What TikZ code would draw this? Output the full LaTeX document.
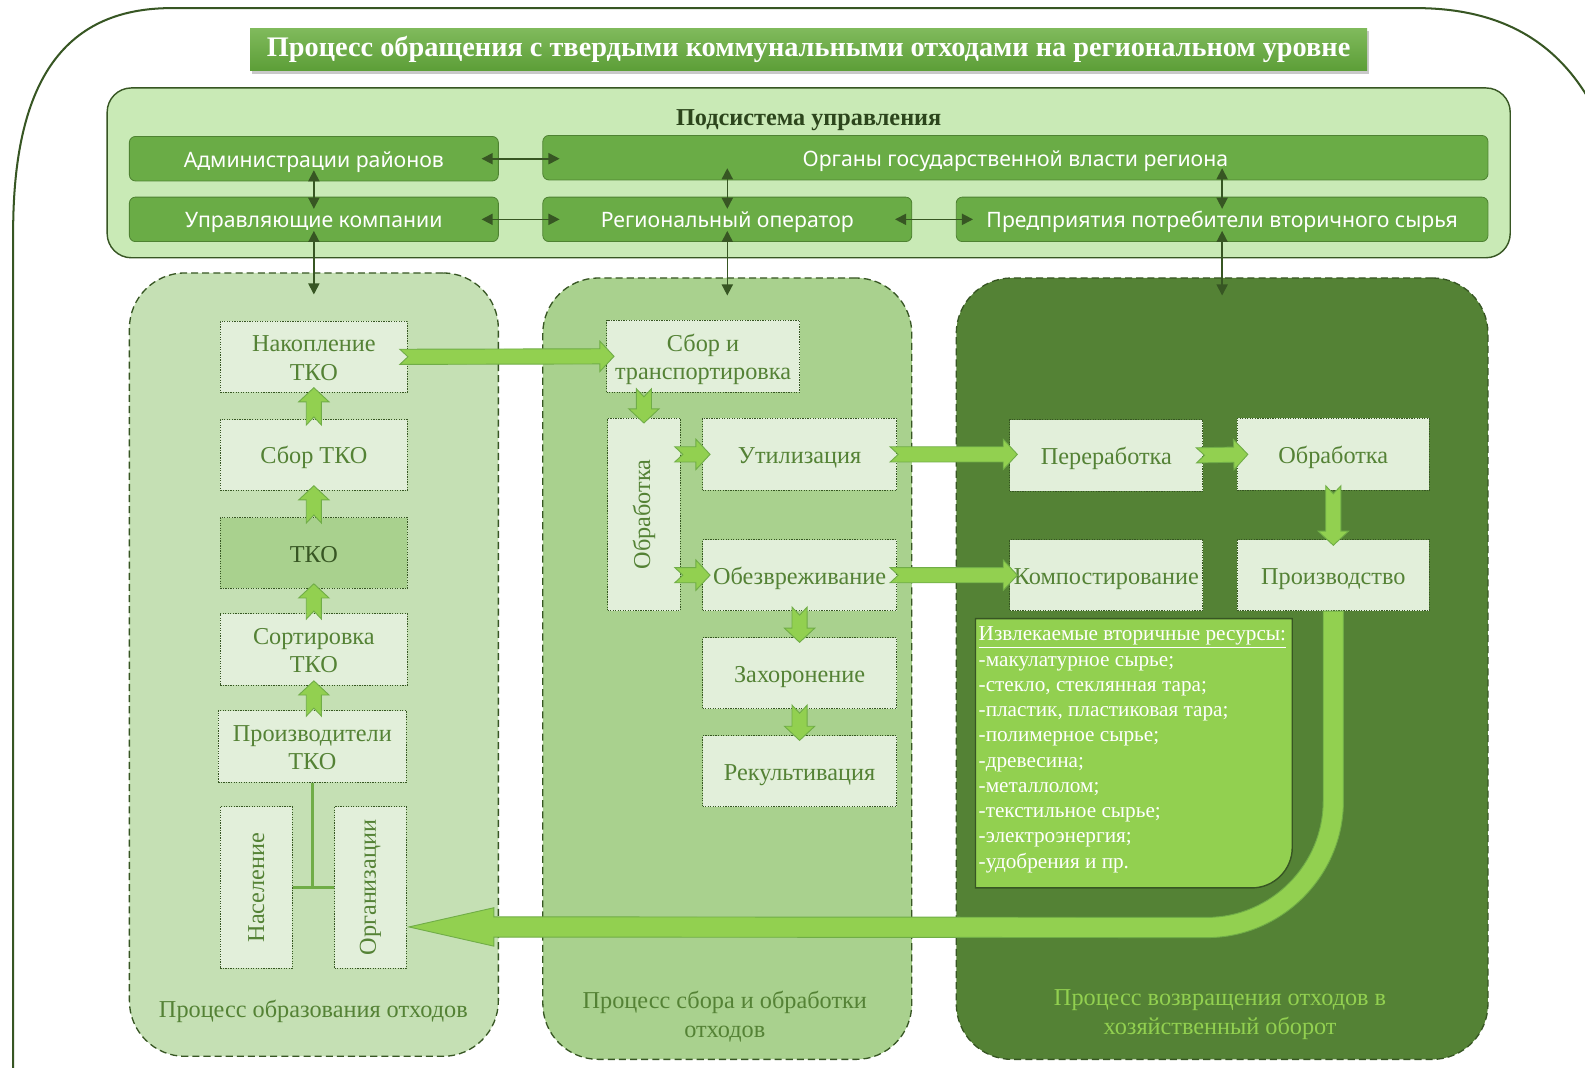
\documentclass[tikz,border=0pt]{standalone}
\usepackage{fontspec}
\setmainfont{Liberation Serif}
\newfontfamily\sansf{Noto Sans}
\usetikzlibrary{calc,arrows.meta,shadows}
\definecolor{cdark}{HTML}{375623}
\definecolor{ctitleA}{HTML}{80BA5C}
\definecolor{ctitleB}{HTML}{5C9E37}
\definecolor{csub}{HTML}{C9EAB6}
\definecolor{ctop}{HTML}{6AAC46}
\definecolor{ctopb}{HTML}{4E8232}
\definecolor{cpA}{HTML}{C5E0B4}
\definecolor{cpB}{HTML}{A9D18E}
\definecolor{cpC}{HTML}{548235}
\definecolor{cw}{HTML}{E2EFDA}
\definecolor{ctext}{HTML}{548235}
\definecolor{carr}{HTML}{92D050}
\definecolor{carrb}{HTML}{70AD47}
\tikzset{
  outerline/.style={draw=cdark, line width=2pt},
  titlebox/.style={top color=ctitleA, bottom color=ctitleB, draw=none, minimum width=1105pt, minimum height=42pt, inner sep=0pt, text=white, font=\bfseries\fontsize{28}{30}\selectfont, drop shadow={shadow xshift=2pt, shadow yshift=-3pt, opacity=0.35, fill=black!60}},
  subbox/.style={draw=cdark, fill=csub, line width=1.4pt, rounded corners=24pt, minimum width=1388pt, minimum height=168pt},
  topbox/.style={draw=ctopb, fill=ctop, line width=0.8pt, rounded corners=6pt, minimum height=44pt, inner sep=0pt, text height=20pt, text depth=3pt, text=white, font=\sansf\fontsize{21}{24}\selectfont},
  panel/.style={draw=cdark, line width=1.3pt, dash pattern=on 7pt off 4pt, rounded corners=55pt},
  wboxr/.style={draw=cdark, fill=cw, line width=1.1pt, dash pattern=on 1.2pt off 1.3pt, text=ctext, align=center, inner sep=0pt, minimum width=185pt, minimum height=70pt, font=\fontsize{24}{28}\selectfont},
  wbox/.style={wboxr, text height=20pt, text depth=2pt},
  wboxtwo/.style={wboxr, text height=46pt, text depth=0pt},
  darr/.style={draw=cdark, line width=1.6pt, {Triangle[length=11pt,width=11pt]}-{Triangle[length=11pt,width=11pt]}},
  barr/.style={fill=carr, draw=carrb, line width=0.9pt},
  plabel/.style={align=center, font=\fontsize{24}{29}\selectfont},
}
\newcommand\blk[2]{%
  \path (#1) coordinate (bA) (#2) coordinate (bB);
  \coordinate (bH) at ($(bB)!14pt!(bA)$);
  \draw[barr] ($(bA)!7.5pt!90:(bB)$) -- ($(bH)!7.5pt!-90:(bA)$) -- ($(bH)!15pt!-90:(bA)$) -- (bB)
    -- ($(bH)!15pt!90:(bA)$) -- ($(bH)!7.5pt!90:(bA)$) -- ($(bA)!7.5pt!-90:(bB)$) -- ($(bA)!8pt!(bB)$) -- cycle;
}
\begin{document}
\begin{tikzpicture}[x=1pt,y=-1pt]
\useasboundingbox (0,0) rectangle (1568,1056);
\clip (0,0) rectangle (1568,1056);
\fill[white] (0,0) rectangle (1568,1056);
% outer frame
\draw[outerline] (13,1080) -- (13,230) .. controls (13,85) and (60,8) .. (170,8) -- (1400,8) .. controls (1490,8) and (1560,45) .. (1595,150) -- (1595,1080);
% title
\node[titlebox] (title) at (800,49) {Процесс обращения с твердыми коммунальными отходами на региональном уровне};
% management subsystem
\node[subbox] (sub) at (800,171) {};
\node[font=\bfseries\fontsize{24}{26}\selectfont, text=cdark!80!black] (subt) at (800,119) {Подсистема управления};
\node[topbox, minimum width=365pt] (adm) at (310.5,157) {Администрации районов};
\node[topbox, minimum width=935pt] (org) at (1004.5,156) {Органы государственной власти региона};
\node[topbox, minimum width=365pt] (upr) at (310.5,217) {Управляющие компании};
\node[topbox, minimum width=365pt] (reg) at (719.5,217) {Региональный оператор};
\node[topbox, minimum width=526pt] (pred) at (1209,217) {Предприятия потребители вторичного сырья};
% panels
\node[panel, fill=cpA, minimum width=365pt, minimum height=775pt] (p1) at (310.5,657.5) {};
\node[panel, fill=cpB, minimum width=365pt, minimum height=773pt] (p2) at (719.5,661.5) {};
\node[panel, fill=cpC, minimum width=526pt, minimum height=773pt] (p3) at (1209,661.5) {};
% management arrows
\draw[darr, shorten <=-17pt, shorten >=-17pt] (adm.east) -- (org.west |- adm.east);
\draw[darr, shorten <=-17pt, shorten >=-17pt] (upr.east) -- (reg.west);
\draw[darr, shorten <=-17pt, shorten >=-17pt] (reg.east) -- (pred.west);
\draw[darr, shorten <=-11pt, shorten >=-12pt] (adm.south) -- (upr.north);
\draw[darr, shorten <=-12pt, shorten >=-12pt] (org.south -| reg.north) -- (reg.north);
\draw[darr, shorten <=-12pt, shorten >=-12pt] (org.south -| pred.north) -- (pred.north);
\draw[darr, shorten <=-11pt, shorten >=-22pt] (upr.south) -- (upr.south |- p1.north);
\draw[darr, shorten <=-11pt, shorten >=-18pt] (reg.south) -- (reg.south |- p2.north);
\draw[darr, shorten <=-11pt, shorten >=-18pt] (pred.south) -- (pred.south |- p3.north);
% left panel
\node[wboxtwo] (nak) at (310.5,353) {Накопление\\ТКО};
\node[wbox] (sbor) at (310.5,450) {Сбор ТКО};
\node[wbox, fill=cpB, text=cdark] (tko) at (310.5,547) {ТКО};
\node[wboxtwo, minimum height=71pt] (sort) at (310.5,642.5) {Сортировка\\ТКО};
\node[wboxtwo, minimum width=186pt, minimum height=71pt] (proiz) at (309,738.5) {Производители\\ТКО};
\node[wboxr, minimum width=71pt, minimum height=160pt] (nas) at (253.5,878) {\rotatebox{90}{Население}};
\node[wboxr, minimum width=71pt, minimum height=160pt] (orgz) at (366.5,878) {\rotatebox{90}{Организации}};
\draw[carrb, line width=2.5pt] (proiz.south) -- (proiz.south |- nas.east);
\draw[carrb, line width=2.5pt] (nas.east) -- (orgz.west);
\node[plabel, text=ctext] (l1) at (310,1001) {Процесс образования отходов};
\blk{$(sbor.north)+(0,6)$}{$(nak.south)+(0,-5)$}
\blk{$(tko.north)+(0,6)$}{$(sbor.south)+(0,-5)$}
\blk{$(sort.north)+(0,6)$}{$(tko.south)+(0,-5)$}
\blk{$(proiz.north)+(1.5,6)$}{$(sort.south)+(0,-5)$}
% middle panel
\node[wboxtwo, minimum width=191pt, minimum height=71pt] (sbt) at (695.5,352.5) {Сбор и\\транспортировка};
\node[wboxr, minimum width=72pt, minimum height=190pt] (obr) at (637,509) {\rotatebox{90}{Обработка}};
\node[wbox, minimum width=192pt, minimum height=71pt] (util) at (791,449.5) {Утилизация};
\node[wbox, minimum width=192pt] (obez) at (791,569) {Обезвреживание};
\node[wbox, minimum width=192pt] (zah) at (791,666) {Захоронение};
\node[wbox, minimum width=192pt] (rek) at (791,763) {Рекультивация};
\node[plabel, text=ctext] (l2) at (717,1006) {Процесс сбора и обработки\\отходов};
\blk{$(nak.east)+(-8,0)$}{$(sbt.west)+(8,0)$}
\blk{$(obr.north |- sbt.south)+(0,-4)$}{$(obr.north)+(0,5)$}
\blk{$(obr.east |- util.west)+(-6,0)$}{$(util.west)+(8,0)$}
\blk{$(obr.east |- obez.west)+(-6,0)$}{$(obez.west)+(8,0)$}
\blk{$(obez.south)+(0,-4)$}{$(zah.north)+(0,5)$}
\blk{$(zah.south)+(0,-4)$}{$(rek.north)+(0,5)$}
% right panel
\node[wbox, minimum width=191pt, minimum height=71pt] (perer) at (1094.5,450.5) {Переработка};
\node[wbox, minimum width=190pt, minimum height=71pt] (obr2) at (1319,449.5) {Обработка};
\node[wbox, minimum width=191pt] (komp) at (1094.5,569) {Компостирование};
\node[wbox, minimum width=190pt] (prd) at (1319,569) {Производство};
\blk{$(util.east)+(-7,0)$}{$(perer.west |- util.east)+(8,0)$}
\blk{$(obez.east)+(-7,0)$}{$(komp.west)+(8,0)$}
\blk{$(perer.east)+(-7,0)$}{$(obr2.west)+(11,0)$}
\blk{$(obr2.south)+(0,-5)$}{$(prd.north)+(0,6)$}
% resources box
\node[minimum width=313pt, minimum height=266pt, inner sep=0pt, anchor=north west] (res) at (965,612) {};
\draw[fill=carr, draw=cdark, line width=1.4pt] (res.north west) -- (res.north east) -- ($(res.south east)+(0,-40)$) .. controls ($(res.south east)+(0,-18)$) and ($(res.south east)+(-18,0)$) .. ($(res.south east)+(-40,0)$) -- (res.south west) -- cycle;
\node[anchor=north west, align=left, text=white, inner sep=0pt, font=\fontsize{21}{25}\selectfont] (rest) at ($(res.north west)+(3,8)$) {\underline{Извлекаемые вторичные ресурсы:}\\-макулатурное сырье;\\-стекло, стеклянная тара;\\-пластик, пластиковая тара;\\-полимерное сырье;\\-древесина;\\-металлолом;\\-текстильное сырье;\\-электроэнергия;\\-удобрения и пр.};
% return arrow
\coordinate (rs) at (prd.south);
\coordinate (rt) at ($(orgz.east)+(2,39)$);
\draw[barr] ($(rs)+(10,0)$) -- ($(rs)+(10,188)$) .. controls ($(rs)+(10,262)$) and ($(rs)+(-51,323)$) .. ($(rs)+(-125,323)$)
  -- ($(rt)+(84,10)$) -- ($(rt)+(84,19)$) -- (rt) -- ($(rt)+(84,-19)$) -- ($(rt)+(84,-10)$)
  -- ($(rs)+(-125,303)$) .. controls ($(rs)+(-62,303)$) and ($(rs)+(-10,251)$) .. ($(rs)+(-10,188)$) -- ($(rs)+(-10,0)$) -- cycle;
\node[plabel, text=carr] (l3) at (1207,1004) {Процесс возвращения отходов в\\хозяйственный оборот};
\end{tikzpicture}
\end{document}
